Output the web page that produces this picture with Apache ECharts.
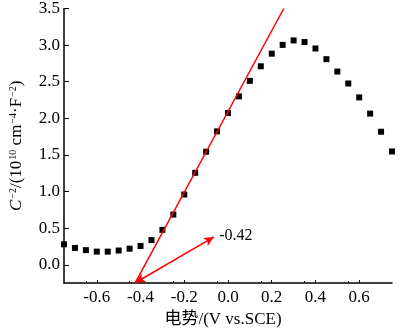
<!DOCTYPE html>
<html>
<head>
<meta charset="utf-8">
<script src="https://cdn.jsdelivr.net/npm/echarts@6/dist/echarts.min.js"></script>
<style>html,body{margin:0;padding:0;background:#fff}#c{width:400px;height:333px}</style>
</head>
<body>
<div id="c"></div>
<script>
const potentials = [-0.75,-0.70,-0.65,-0.60,-0.55,-0.50,-0.45,-0.40,-0.35,-0.30,-0.25,-0.20,-0.15,-0.10,-0.05,0.00,0.05,0.10,0.15,0.20,0.25,0.30,0.35,0.40,0.45,0.50,0.55,0.60,0.65,0.70,0.75];
const invC2 = [0.28,0.23,0.20,0.18,0.18,0.195,0.22,0.257,0.337,0.477,0.686,0.96,1.256,1.544,1.822,2.074,2.30,2.512,2.711,2.883,3.003,3.064,3.042,2.954,2.808,2.639,2.476,2.286,2.065,1.817,1.548];
const fitLineX = [-0.425, 0.255];
const fitLineY = [-0.25, 3.5];
const arrowX = [-0.424, -0.064];
const arrowY = [-0.245, 0.38];
const annotationText = '-0.42';
const annotationPos = [-0.04, 0.40];
const xTicks = [-0.6,-0.4,-0.2,0.0,0.2,0.4,0.6];
const yTicks = [0.0,0.5,1.0,1.5,2.0,2.5,3.0,3.5];

const font = "'Liberation Serif', 'Times New Roman', serif";
const chart = echarts.init(document.getElementById('c'), null, {renderer:'canvas'});
chart.setOption({
  animation:false,
  backgroundColor:'#fff',
  grid:{left:53,right:8,top:6,bottom:45},
  xAxis:{
    type:'value', min:-0.75, max:0.75, interval:0.2,
    name:'电势/(V vs.SCE)', nameLocation:'middle', nameGap:26,
    nameTextStyle:{fontFamily:"'Liberation Serif', 'Noto Sans CJK SC', serif", fontSize:17, color:'#000', padding:[0,10,0,0]},
    axisLine:{onZero:false, lineStyle:{color:'#000', width:1.5}},
    axisTick:{inside:true, length:3, lineStyle:{color:'#000'}, customValues:xTicks},
    minorTick:{show:true, splitNumber:2, length:2, lineStyle:{color:'#000'}},
    axisLabel:{fontFamily:font, fontSize:17, color:'#000', margin:6, customValues:xTicks,
      formatter:v=>v.toFixed(1)},
    splitLine:{show:false}
  },
  yAxis:{
    type:'value', min:-0.25, max:3.5,
    name:'{i|C}{s|−2}{n|/(10}{s|10}{n| cm}{s|−4}{n|·F}{s|−2}{n|)}',
    nameLocation:'middle', nameGap:38, nameRotate:90,
    nameTextStyle:{fontFamily:font, fontSize:17, color:'#000',
      rich:{
        i:{fontFamily:font, fontSize:17, fontStyle:'italic', color:'#000'},
        n:{fontFamily:font, fontSize:17, color:'#000'},
        s:{fontFamily:font, fontSize:10, color:'#000', verticalAlign:'top', padding:[0,0,8,1]}
      }},
    axisLine:{onZero:false, lineStyle:{color:'#000', width:1.5}},
    axisTick:{inside:true, length:5, lineStyle:{color:'#000'}, customValues:yTicks},
    axisLabel:{fontFamily:font, fontSize:17, color:'#000', margin:4, customValues:yTicks,
      formatter:v=>v.toFixed(1)},
    splitLine:{show:false}
  },
  series:[
    {
      type:'scatter', symbol:'rect', symbolSize:6,
      itemStyle:{color:'#000', opacity:1},
      data:potentials.map((x,i)=>[x,invC2[i]]),
      clip:true, z:3
    },
    {
      type:'line', symbol:'none', clip:true,
      lineStyle:{color:'#ff0000', width:1.5},
      data:fitLineX.map((x,i)=>[x,fitLineY[i]]),
      markLine:{
        silent:true, symbol:['arrow','arrow'], symbolSize:[7,10],
        lineStyle:{color:'#ff0000', width:1.5, type:'solid'},
        label:{show:false},
        data:[[{coord:[arrowX[0],arrowY[0]]},{coord:[arrowX[1],arrowY[1]]}]]
      },
      z:4
    },
    {
      type:'scatter', symbolSize:0,
      itemStyle:{opacity:1},
      data:[annotationPos],
      label:{show:true, position:'right', distance:0, formatter:annotationText,
        fontFamily:font, fontSize:16, color:'#000', opacity:1}
    }
  ]
});
</script>
</body>
</html>
